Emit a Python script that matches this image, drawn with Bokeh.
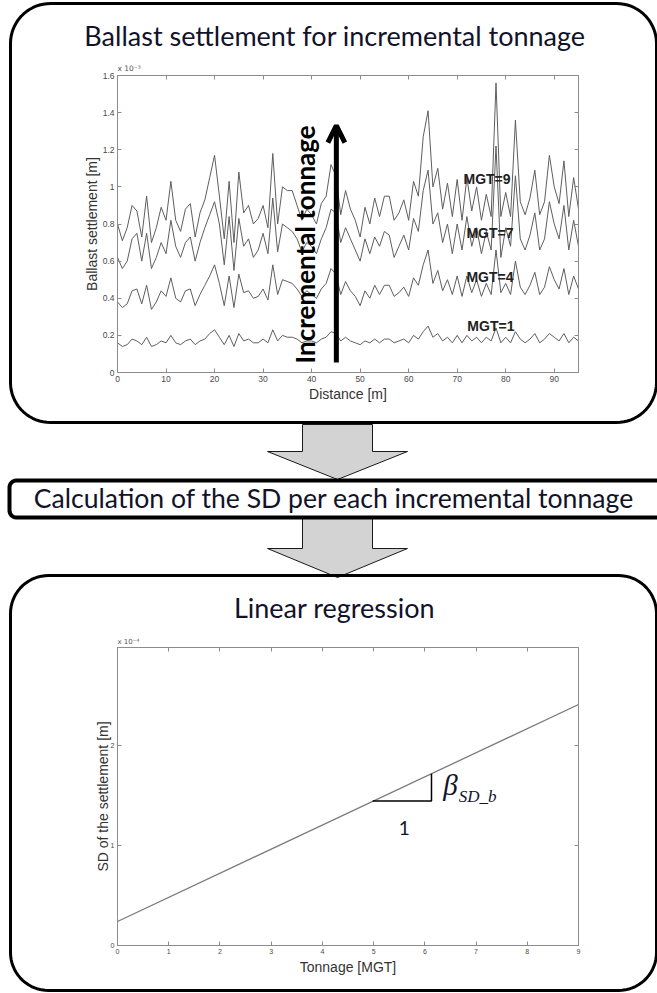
import numpy as np
from bokeh.plotting import figure
from bokeh.layouts import column
from bokeh.models import Range1d, LinearAxis, FixedTicker, Arrow, OpenHead
from bokeh.core.properties import value
from bokeh.embed import file_html
from bokeh.resources import INLINE

# ---------------- data ----------------
distance_m = list(range(0, 96))
# ballast settlement, in units of 1e-3 m
settle_mgt9 = [0.80, 0.71, 0.78, 0.90, 0.87, 0.73, 0.95, 0.70, 0.78, 0.89,
               0.82, 1.03, 0.82, 0.76, 0.88, 0.91, 0.73, 0.86, 0.93, 1.05,
               1.17, 0.95, 0.72, 1.03, 0.70, 1.08, 0.86, 0.90, 0.80, 0.83,
               0.90, 0.78, 1.18, 0.80, 1.00, 0.98, 0.98, 0.90, 0.82, 0.88,
               0.85, 0.80, 0.91, 0.95, 1.12, 1.06, 0.85, 0.98, 0.88, 0.82,
               0.73, 0.89, 0.80, 0.94, 0.84, 0.95, 0.95, 0.82, 0.86, 0.93,
               0.82, 1.03, 0.95, 1.27, 1.41, 1.00, 1.10, 0.88, 1.02, 0.84,
               1.04, 0.82, 1.05, 0.87, 1.00, 0.82, 0.96, 0.84, 1.56, 0.84,
               0.97, 0.84, 1.36, 0.92, 0.85, 0.94, 1.09, 0.85, 0.92, 1.17,
               1.00, 0.91, 1.14, 0.84, 1.05, 0.88]
settle_mgt7 = [0.62, 0.56, 0.60, 0.72, 0.75, 0.60, 0.75, 0.56, 0.62, 0.70,
               0.64, 0.82, 0.68, 0.62, 0.70, 0.73, 0.60, 0.70, 0.78, 0.85,
               0.92, 0.80, 0.58, 0.84, 0.55, 0.83, 0.68, 0.72, 0.62, 0.66,
               0.75, 0.64, 0.94, 0.65, 0.80, 0.78, 0.76, 0.72, 0.65, 0.70,
               0.68, 0.64, 0.72, 0.78, 0.88, 0.86, 0.70, 0.78, 0.72, 0.66,
               0.60, 0.72, 0.64, 0.73, 0.68, 0.76, 0.74, 0.62, 0.68, 0.74,
               0.66, 0.83, 0.76, 0.98, 1.09, 0.80, 0.86, 0.70, 0.80, 0.64,
               0.80, 0.66, 0.84, 0.68, 0.78, 0.64, 0.76, 0.66, 1.22, 0.62,
               0.78, 0.68, 1.06, 0.72, 0.66, 0.74, 0.86, 0.66, 0.72, 0.92,
               0.80, 0.72, 0.90, 0.66, 0.82, 0.68]
settle_mgt4 = [0.38, 0.35, 0.37, 0.44, 0.45, 0.37, 0.47, 0.34, 0.38, 0.44,
               0.41, 0.51, 0.40, 0.38, 0.44, 0.45, 0.36, 0.42, 0.47, 0.52,
               0.58, 0.48, 0.36, 0.52, 0.35, 0.53, 0.43, 0.44, 0.40, 0.41,
               0.45, 0.39, 0.58, 0.42, 0.50, 0.49, 0.48, 0.45, 0.41, 0.44,
               0.42, 0.40, 0.45, 0.48, 0.56, 0.53, 0.42, 0.49, 0.44, 0.41,
               0.36, 0.44, 0.40, 0.47, 0.42, 0.47, 0.47, 0.41, 0.43, 0.46,
               0.41, 0.51, 0.47, 0.58, 0.66, 0.48, 0.55, 0.44, 0.50, 0.42,
               0.52, 0.41, 0.52, 0.43, 0.50, 0.41, 0.48, 0.42, 0.66, 0.43,
               0.48, 0.42, 0.60, 0.46, 0.42, 0.47, 0.54, 0.42, 0.46, 0.57,
               0.50, 0.45, 0.56, 0.42, 0.52, 0.45]
settle_mgt1 = [0.16, 0.14, 0.15, 0.18, 0.17, 0.15, 0.19, 0.14, 0.15, 0.17,
               0.16, 0.20, 0.16, 0.15, 0.17, 0.18, 0.15, 0.17, 0.18, 0.21,
               0.23, 0.19, 0.15, 0.20, 0.14, 0.21, 0.17, 0.18, 0.16, 0.16,
               0.18, 0.16, 0.23, 0.17, 0.20, 0.19, 0.19, 0.18, 0.16, 0.17,
               0.17, 0.16, 0.18, 0.19, 0.22, 0.21, 0.17, 0.19, 0.17, 0.16,
               0.15, 0.17, 0.16, 0.18, 0.16, 0.18, 0.18, 0.16, 0.17, 0.18,
               0.16, 0.20, 0.18, 0.22, 0.25, 0.19, 0.21, 0.17, 0.19, 0.16,
               0.20, 0.16, 0.20, 0.17, 0.19, 0.16, 0.19, 0.17, 0.24, 0.16,
               0.19, 0.16, 0.22, 0.18, 0.16, 0.18, 0.21, 0.16, 0.18, 0.21,
               0.19, 0.17, 0.21, 0.16, 0.19, 0.17]
series_labels = ["MGT=9", "MGT=7", "MGT=4", "MGT=1"]
series_label_x = [71.3, 71.9, 71.9, 72.1]
series_label_y = [1.04, 0.754, 0.517, 0.248]

top_x_ticks = [0, 10, 20, 30, 40, 50, 60, 70, 80, 90]
top_y_ticks = [0, 0.2, 0.4, 0.6, 0.8, 1, 1.2, 1.4, 1.6]
top_y_tick_labels = ["0", "0.2", "0.4", "0.6", "0.8", "1", "1.2", "1.4", "1.6"]

# linear regression of the SD, in units of 1e-4 m
tonnage_mgt = [0, 9]
sd_fit_e4 = [0.24, 2.41]
bottom_x_ticks = [0, 1, 2, 3, 4, 5, 6, 7, 8, 9]
bottom_y_ticks = [0, 1, 2]

# slope triangle on the regression line
slope_tri_x = [4.98, 6.13, 6.13]
slope_tri_y = [1.445, 1.445, 1.718]

# texts
title_top = "Ballast settlement for incremental tonnage"
title_mid = "Calculation of the SD per each incremental tonnage"
title_bot = "Linear regression"
arrow_text = "Incremental tonnage"

TITLE_FONT = "Lato"
AX_FONT = "Liberation Sans"
AX_GREY = "#8c8c8c"
LINE_GREY = "#5e5e5e"
TXT_DARK = "#12122a"


def rounded_rect(x0, y0, x1, y1, r, n=18):
    xs, ys = [], []
    corners = [((x0 + r, y0 + r), np.pi, 1.5 * np.pi),
               ((x1 - r, y0 + r), 1.5 * np.pi, 2 * np.pi),
               ((x1 - r, y1 - r), 0.0, 0.5 * np.pi),
               ((x0 + r, y1 - r), 0.5 * np.pi, np.pi)]
    for (cx, cy), a0, a1 in corners:
        t = np.linspace(a0, a1, n)
        xs.extend(cx + r * np.cos(t))
        ys.extend(cy + r * np.sin(t))
    xs.append(xs[0])
    ys.append(ys[0])
    return list(xs), list(ys)


def block_arrow(sl, sr, top, head_top, hl, hr, tip_x, tip_y):
    xs = [sl, sr, sr, hr, tip_x, hl, sl, sl]
    ys = [top, top, head_top, head_top, tip_y, head_top, head_top, top]
    return xs, ys


def style_axis(ax, ticks, label_size):
    ax.ticker = FixedTicker(ticks=ticks)
    ax.major_tick_in = 4
    ax.major_tick_out = 0
    ax.minor_tick_line_color = None
    ax.axis_line_color = AX_GREY
    ax.major_tick_line_color = AX_GREY
    ax.major_label_text_font = AX_FONT
    ax.major_label_text_font_size = label_size
    ax.major_label_text_color = "#4a4a4a"
    ax.major_label_standoff = 3
    ax.axis_label_text_font = AX_FONT
    ax.axis_label_text_font_style = "normal"
    ax.axis_label_text_font_size = "14px"
    ax.axis_label_text_color = "#333333"


def mirror_axis(ticks):
    return LinearAxis(ticker=FixedTicker(ticks=ticks), major_tick_in=4, major_tick_out=0,
                      minor_tick_line_color=None, axis_line_color=AX_GREY,
                      major_tick_line_color=AX_GREY, major_label_text_alpha=0,
                      major_label_text_font_size="6px")


def add_px_ranges(p, fl, fr, ft, fb):
    # extra ranges that map 1 unit = 1 canvas pixel (y measured downward)
    p.extra_x_ranges = {"px": Range1d(fl, fr)}
    p.extra_y_ranges = {"py": Range1d(fb, ft)}


PX = dict(level="overlay", x_range_name="px", y_range_name="py")

# ================= top panel =================
W = 657
HA = 424
LB, RB, TB_A, BB_A = 117, 79, 75, 52
pa = figure(width=W, height=HA, x_range=Range1d(0, 95), y_range=Range1d(0, 1.6),
            output_backend="svg", toolbar_location=None,
            min_border_left=LB, min_border_right=RB, min_border_top=TB_A, min_border_bottom=BB_A)
pa.background_fill_color = "white"
pa.border_fill_color = "white"
pa.outline_line_color = AX_GREY
pa.xgrid.visible = False
pa.ygrid.visible = False
add_px_ranges(pa, LB, W - RB, TB_A, HA - BB_A)

style_axis(pa.xaxis[0], top_x_ticks, "8.5px")
style_axis(pa.yaxis[0], top_y_ticks, "8.5px")
pa.yaxis[0].major_label_overrides = dict(zip(top_y_ticks, top_y_tick_labels))
pa.xaxis[0].axis_label = "Distance [m]"
pa.yaxis[0].axis_label = "Ballast settlement [m]"
pa.xaxis[0].axis_label_standoff = 1
pa.yaxis[0].axis_label_standoff = 0
pa.add_layout(mirror_axis(top_x_ticks), "above")
pa.add_layout(mirror_axis(top_y_ticks), "right")

for ys in (settle_mgt9, settle_mgt7, settle_mgt4, settle_mgt1):
    pa.line(distance_m, ys, line_color=LINE_GREY, line_width=1)

pa.text(x=series_label_x, y=series_label_y, text=series_labels,
        text_font=value(AX_FONT), text_font_style="bold", text_font_size=value("14px"),
        text_color="#222222", text_baseline="middle", text_align="left")

pa.add_layout(Arrow(end=OpenHead(size=17, line_width=5, line_color="black"),
                    x_start=45.1, y_start=0.054, x_end=45.1, y_end=1.33,
                    line_width=5, line_color="black"))
pa.text(x=[38.7], y=[0.69], text=[arrow_text], angle=np.pi / 2,
        text_font=value(TITLE_FONT), text_font_style="bold", text_font_size=value("26px"),
        text_color="black", text_align="center", text_baseline="middle")

# decorations (pixel coordinates of this canvas)
bx, by = rounded_rect(10, 3, 656, 422, 40)
pa.line(bx, by, line_color="black", line_width=3, **PX)
pa.text(x=[334.5], y=[34.5], text=[title_top], text_font=value(TITLE_FONT),
        text_font_size=value("27px"), text_color=TXT_DARK, text_align="center",
        text_baseline="alphabetic", **PX)
pa.text(x=[117], y=[72], text=["x 10\u207b\u00b3"], text_font=value("DejaVu Sans"),
        text_font_size=value("7.5px"), text_color="#555555", text_align="left",
        text_baseline="bottom", **PX)

# ================= lower part (arrows, calculation box, regression) =================
HB = 568
TB_B, BB_B = 223, 47
pb = figure(width=W, height=HB, x_range=Range1d(0, 9), y_range=Range1d(0, 2.98),
            output_backend="svg", toolbar_location=None,
            min_border_left=LB, min_border_right=RB, min_border_top=TB_B, min_border_bottom=BB_B)
pb.background_fill_color = "white"
pb.border_fill_color = "white"
pb.outline_line_color = AX_GREY
pb.xgrid.visible = False
pb.ygrid.visible = False
add_px_ranges(pb, LB, W - RB, TB_B, HB - BB_B)

style_axis(pb.xaxis[0], bottom_x_ticks, "7px")
style_axis(pb.yaxis[0], bottom_y_ticks, "7px")
pb.xaxis[0].axis_label = "Tonnage [MGT]"
pb.yaxis[0].axis_label = "SD of the settlement [m]"
pb.xaxis[0].axis_label_standoff = 2
pb.yaxis[0].axis_label_standoff = -3
pb.add_layout(mirror_axis(bottom_x_ticks), "above")
pb.add_layout(mirror_axis(bottom_y_ticks), "right")

pb.line(tonnage_mgt, sd_fit_e4, line_color="#7a7a7a", line_width=1.3)
pb.line(slope_tri_x, slope_tri_y, line_color="black", line_width=1.5)
pb.text(x=[5.6], y=[1.18], text=["1"], text_font=value(TITLE_FONT), text_font_size=value("19px"),
        text_color=TXT_DARK, text_align="center", text_baseline="middle")
pb.text(x=[6.36], y=[1.61], text=["\u03b2"], text_font=value("Liberation Serif"),
        text_font_style="italic", text_font_size=value("29px"), text_color=TXT_DARK,
        text_align="left", text_baseline="alphabetic")
pb.text(x=[6.66], y=[1.49], text=["SD_b"], text_font=value("Liberation Serif"),
        text_font_style="italic", text_font_size=value("17px"), text_color=TXT_DARK,
        text_align="left", text_baseline="alphabetic")

# block arrows (canvas y = page y - 424)
a1x, a1y = block_arrow(302, 372, 0, 27, 267, 407, 337, 55)
a2x, a2y = block_arrow(302, 372, 93, 124, 267, 407, 337, 153)
for ax_, ay_ in ((a1x, a1y), (a2x, a2y)):
    pb.patch(ax_, ay_, fill_color="#d3d3d3", line_color="#1a1a1a", line_width=1, **PX)

# calculation box
cx, cy = rounded_rect(9, 56, 675, 93, 7)
pb.patch(cx, cy, fill_color="white", line_color="black", line_width=4, **PX)
pb.text(x=[333.5], y=[73.5], text=[title_mid], text_font=value(TITLE_FONT),
        text_font_size=value("26.6px"), text_color=TXT_DARK, text_align="center",
        text_baseline="alphabetic", **PX)

# regression panel box
rx, ry = rounded_rect(10, 151, 656, 566, 38)
pb.line(rx, ry, line_color="black", line_width=3, **PX)
pb.text(x=[334], y=[182.5], text=[title_bot], text_font=value(TITLE_FONT),
        text_font_size=value("27px"), text_color=TXT_DARK, text_align="center",
        text_baseline="alphabetic", **PX)
pb.text(x=[117], y=[221], text=["x 10\u207b\u2074"], text_font=value("DejaVu Sans"),
        text_font_size=value("7px"), text_color="#555555", text_align="left",
        text_baseline="bottom", **PX)

layout = column(pa, pb, spacing=0)
open("out.html", "w").write(file_html(layout, INLINE))
